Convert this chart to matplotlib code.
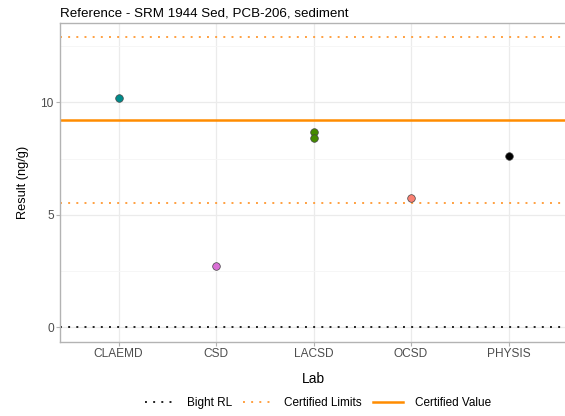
import matplotlib
matplotlib.use("Agg")
import matplotlib.pyplot as plt
from matplotlib.lines import Line2D
from matplotlib.ticker import MultipleLocator

plt.rcParams['font.family'] = ['Liberation Sans', 'DejaVu Sans']

labs = ["CLAEMD", "CSD", "LACSD", "OCSD", "PHYSIS"]
point_labs = ["CLAEMD", "CSD", "LACSD", "LACSD", "OCSD", "PHYSIS"]
point_vals = [10.2, 2.7, 8.7, 8.42, 5.73, 7.6]
lab_colors = {"CLAEMD": "#008B8B", "CSD": "#DA70D6", "LACSD": "#458B00",
              "OCSD": "#FA8072", "PHYSIS": "#000000"}
bight_rl = 0.0
certified_value = 9.21
certified_limits = [5.526, 12.894]

fig = plt.figure(figsize=(5.65, 4.16), dpi=100)
ax = fig.add_axes([60/565, (416-341.5)/416, 507/565, (341.5-23)/416])

xpos = {l: i + 1 for i, l in enumerate(labs)}

# grid
ax.set_axisbelow(True)
ax.yaxis.set_minor_locator(MultipleLocator(2.5))
ax.grid(True, which='major', color='#ebebeb', linewidth=0.9)
ax.grid(True, which='minor', axis='y', color='#f5f5f5', linewidth=0.6)

orange = '#FF8C00'
limit_orange = '#FFA040'
dot = (0, (1, 3.2))
ax.axhline(bight_rl, color='#222222', linestyle=dot, linewidth=1.4, zorder=2)
for v in certified_limits:
    ax.axhline(v, color=limit_orange, linestyle=dot, linewidth=1.4, zorder=2)
ax.axhline(certified_value, color=orange, linewidth=1.8, zorder=2)

for l, v in zip(point_labs, point_vals):
    ax.scatter(xpos[l], v, s=30, facecolor=lab_colors[l], edgecolor='#444444',
               linewidth=0.5, zorder=3)

ax.set_xlim(0.4, 5.6)
ax.set_ylim(-0.64, 13.53)
ax.set_xticks(range(1, len(labs) + 1))
ax.set_xticklabels(labs)
ax.set_yticks([0, 5, 10])
ax.tick_params(axis='both', which='major', colors='#b3b3b3', labelcolor='#4d4d4d',
               labelsize=8.6, length=3, width=0.8, pad=1.5)
ax.tick_params(axis='y', which='minor', length=0)
for s in ax.spines.values():
    s.set_color('#b3b3b3')
    s.set_linewidth(1.0)

ax.set_xlabel("Lab", fontsize=10, labelpad=9)
ax.set_ylabel("Result (ng/g)", fontsize=9.2, labelpad=8)
fig.text(60/565, 1 - 13/416, "Reference - SRM 1944 Sed, PCB-206, sediment",
         fontsize=9.6, va='center', ha='left')

handles = [
    Line2D([], [], color='#222222', linestyle=dot, linewidth=1.4),
    Line2D([], [], color=limit_orange, linestyle=dot, linewidth=1.4),
    Line2D([], [], color=orange, linewidth=1.8),
]
fig.legend(handles, ["Bight RL", "Certified Limits", "Certified Value"],
           loc='center', bbox_to_anchor=(318/565, 1 - 403/416),
           ncol=3, frameon=False, fontsize=8.5, handlelength=2.55,
           columnspacing=0.95, handletextpad=0.95)

fig.savefig("out.png", dpi=100)
